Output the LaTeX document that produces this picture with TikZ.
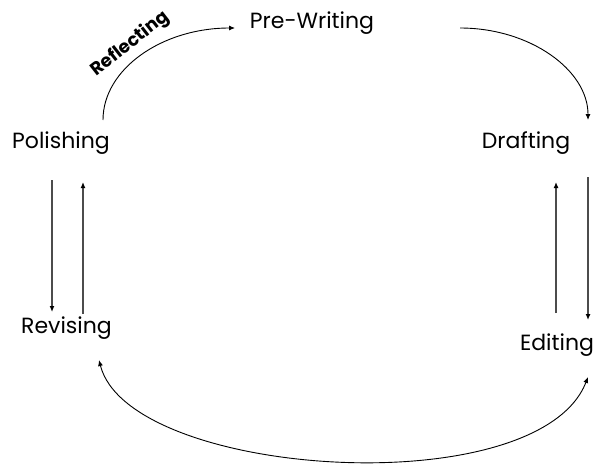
\documentclass[tikz,border=0pt]{standalone}
\usepackage{fontspec}
\setmainfont{Poppins}
\usetikzlibrary{arrows.meta,calc}
\begin{document}
\begin{tikzpicture}[x=1pt,y=-1pt,
  stage/.style={inner sep=0pt,anchor=base,font=\fontsize{22}{26}\selectfont},
  curvearrow/.style={line width=0.9pt,-{Latex[length=6pt,width=5pt]}},
  vertarrow/.style={line width=1.3pt,black!70,-{Latex[length=6pt,width=5pt,color=black]}}]
\fill[white] (0,0) rectangle (596,463);
\useasboundingbox (0,0) rectangle (596,463);
\node[stage] (pw)  at (312,28)  {Pre-Writing};
\node[stage] (pol) at (61,148)  {Polishing};
\node[stage] (dr)  at (526,148) {Drafting};
\node[stage] (rev) at (66.5,333) {Revising};
\node[stage] (ed)  at (557,350) {Editing};
\node[inner sep=0pt,rotate=38,font=\bfseries\fontsize{18}{21}\selectfont] (refl) at (130,44) {Reflecting};
% Polishing -> Pre-Writing
\draw[curvearrow] ($(pol.base)+(42,-28)$) .. controls +(0,-51) and +(-73,0) .. ($(pw.base)+(-77,0)$);
% Pre-Writing -> Drafting
\draw[curvearrow] ($(pw.base)+(148,0)$) .. controls +(70,0) and +(0,-50) .. ($(dr.base)+(62,-28)$);
% Polishing <-> Revising
\draw[vertarrow] ($(pol.base)+(-9,32)$) -- ($(rev.base)+(-14.5,-21)$);
\draw[vertarrow] ($(rev.base)+(16.5,-19)$) -- ($(pol.base)+(22,34)$);
% Drafting <-> Editing
\draw[vertarrow] ($(dr.base)+(62,29)$) -- ($(ed.base)+(31,-30)$);
\draw[vertarrow] ($(ed.base)+(-1,-37)$) -- ($(dr.base)+(30,34)$);
% Revising <-> Editing
\draw[line width=0.9pt,{Latex[length=6pt,width=5pt]}-{Latex[length=6pt,width=5pt]}]
  ($(rev.base)+(32.5,27)$) .. controls +(30,118) and +(-50,128) .. ($(ed.base)+(31,27)$);
\end{tikzpicture}
\end{document}
